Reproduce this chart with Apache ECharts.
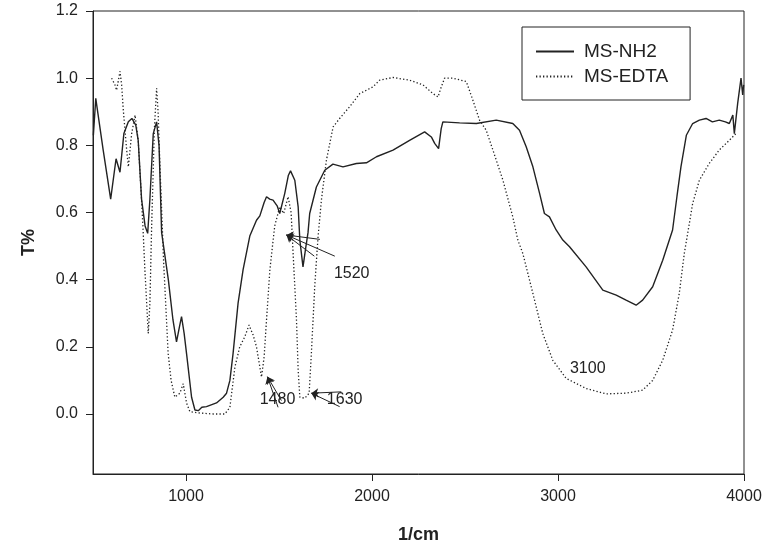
<!DOCTYPE html>
<html>
<head>
<meta charset="utf-8">
<script src="https://cdn.jsdelivr.net/npm/echarts@6/dist/echarts.min.js"></script>
<style>
  html, body { margin: 0; padding: 0; background: #fff; }
  #chart { width: 769px; height: 559px; }
</style>
</head>
<body>
<div id="chart"></div>
<script>
// MS-NH2 (solid) : wavenumber / transmittance
const nh2Wn = [502, 515, 520, 555, 595, 624, 645, 666, 690, 709, 730, 743, 761, 780, 794, 806, 824, 842, 855, 869, 905, 930, 949, 965, 976, 990, 1003, 1030, 1048, 1066, 1085, 1110, 1164, 1200, 1218, 1236, 1253, 1280, 1307, 1343, 1379, 1397, 1420, 1433, 1450, 1468, 1490, 1504, 1531, 1550, 1562, 1585, 1603, 1612, 1629, 1645, 1656, 1665, 1701, 1746, 1790, 1844, 1916, 1970, 2024, 2113, 2202, 2283, 2319, 2337, 2358, 2372, 2381, 2471, 2561, 2668, 2757, 2793, 2829, 2865, 2901, 2927, 2954, 2990, 3026, 3062, 3151, 3241, 3313, 3366, 3420, 3455, 3509, 3563, 3616, 3640, 3661, 3690, 3724, 3760, 3796, 3830, 3867, 3900, 3921, 3940, 3948, 3966, 3984, 3993, 3998];
const nh2T = [0.83, 0.94, 0.92, 0.785, 0.64, 0.76, 0.72, 0.835, 0.87, 0.88, 0.86, 0.815, 0.64, 0.56, 0.538, 0.64, 0.835, 0.87, 0.80, 0.54, 0.40, 0.28, 0.215, 0.26, 0.29, 0.24, 0.18, 0.05, 0.012, 0.01, 0.02, 0.022, 0.033, 0.05, 0.062, 0.10, 0.18, 0.33, 0.43, 0.53, 0.577, 0.59, 0.63, 0.647, 0.64, 0.637, 0.62, 0.597, 0.657, 0.71, 0.724, 0.696, 0.617, 0.518, 0.438, 0.50, 0.54, 0.597, 0.676, 0.726, 0.744, 0.736, 0.746, 0.748, 0.766, 0.786, 0.815, 0.84, 0.825, 0.806, 0.79, 0.85, 0.87, 0.867, 0.865, 0.875, 0.865, 0.845, 0.796, 0.736, 0.657, 0.597, 0.587, 0.548, 0.518, 0.498, 0.438, 0.369, 0.354, 0.339, 0.324, 0.339, 0.379, 0.458, 0.548, 0.65, 0.736, 0.83, 0.865, 0.875, 0.88, 0.87, 0.875, 0.87, 0.865, 0.89, 0.835, 0.925, 1.0, 0.95, 0.98];

// MS-EDTA (dotted)
const edtaWn = [600, 618, 627, 645, 654, 663, 681, 690, 708, 726, 743, 761, 770, 779, 797, 806, 815, 830, 842, 850, 860, 880, 904, 920, 940, 967, 985, 1003, 1021, 1075, 1146, 1209, 1236, 1263, 1289, 1316, 1339, 1361, 1379, 1406, 1420, 1433, 1451, 1477, 1504, 1525, 1549, 1565, 1576, 1594, 1603, 1612, 1639, 1662, 1674, 1692, 1710, 1728, 1755, 1791, 1826, 1880, 1934, 2005, 2041, 2113, 2202, 2274, 2328, 2355, 2370, 2390, 2435, 2507, 2542, 2578, 2614, 2650, 2704, 2757, 2784, 2811, 2865, 2918, 2972, 3044, 3151, 3259, 3366, 3455, 3509, 3563, 3616, 3652, 3679, 3706, 3724, 3760, 3813, 3867, 3921, 3957];
const edtaT = [1.0, 0.98, 0.964, 1.02, 0.98, 0.905, 0.786, 0.736, 0.835, 0.89, 0.815, 0.637, 0.54, 0.43, 0.24, 0.33, 0.55, 0.85, 0.97, 0.90, 0.736, 0.45, 0.18, 0.10, 0.05, 0.062, 0.09, 0.033, 0.007, 0.003, 0.0, 0.0, 0.02, 0.14, 0.2, 0.23, 0.265, 0.235, 0.2, 0.11, 0.17, 0.28, 0.43, 0.56, 0.617, 0.597, 0.647, 0.60, 0.478, 0.28, 0.131, 0.05, 0.047, 0.062, 0.18, 0.379, 0.528, 0.637, 0.756, 0.855, 0.88, 0.915, 0.954, 0.974, 0.994, 1.002, 0.994, 0.98, 0.954, 0.944, 0.97, 1.0, 1.0, 0.99, 0.935, 0.875, 0.845, 0.786, 0.696, 0.587, 0.518, 0.478, 0.359, 0.24, 0.16, 0.106, 0.076, 0.06, 0.062, 0.071, 0.10, 0.16, 0.25, 0.359, 0.478, 0.567, 0.627, 0.696, 0.746, 0.786, 0.815, 0.835];

const xTicks = [1000, 2000, 3000, 4000];
const yTicks = [0, 0.2, 0.4, 0.6, 0.8, 1.0, 1.2];

// peak labels (text, wavenumber, T) and arrows (from -> tip), in data units
const peakLabels = [['1520', 1891, 0.417], ['1480', 1492, 0.042], ['1630', 1853, 0.042], ['3100', 3160, 0.136]];
const arrowLines = [
  [[1800, 0.47], [1540, 0.533]],
  [[1690, 0.47], [1540, 0.533]],
  [[1720, 0.52], [1540, 0.533]],
  [[1513, 0.04], [1438, 0.111]],
  [[1495, 0.02], [1438, 0.111]],
  [[1835, 0.066], [1674, 0.062]],
  [[1826, 0.022], [1674, 0.062]]
];

const FONT = '"Liberation Sans", Arial, sans-serif';
const INK = '#222';

const chart = echarts.init(document.getElementById('chart'));

chart.setOption({
  animation: false,
  textStyle: { fontFamily: FONT, color: INK },
  grid: {
    left: 93, right: 25, top: 11, bottom: 85,
    show: true, borderColor: INK, borderWidth: 1, backgroundColor: 'transparent'
  },
  legend: {
    orient: 'vertical',
    left: 522, top: 27,
    padding: [15, 22, 14, 13],
    itemGap: 6,
    itemWidth: 38, itemHeight: 14,
    borderColor: INK, borderWidth: 1,
    itemStyle: { opacity: 0 },
    textStyle: { fontFamily: FONT, fontSize: 19, color: INK, padding: [0, 0, 0, 5] },
    data: ['MS-NH2', 'MS-EDTA']
  },
  xAxis: {
    type: 'value',
    min: 500, max: 4000,
    name: '1/cm',
    nameLocation: 'middle',
    nameGap: 52,
    nameTextStyle: { fontFamily: FONT, fontSize: 18, fontWeight: 'bold', color: INK },
    axisLine: { onZero: false, lineStyle: { color: INK, width: 1 } },
    axisTick: { length: 7, lineStyle: { color: INK }, customValues: xTicks },
    axisLabel: { margin: 15, fontSize: 16, color: INK, customValues: xTicks, formatter: v => String(v) },
    splitLine: { show: false }
  },
  yAxis: {
    type: 'value',
    min: -0.1786, max: 1.2,
    name: 'T%',
    nameLocation: 'middle',
    nameGap: 55,
    nameRotate: 90,
    nameTextStyle: { fontFamily: FONT, fontSize: 18, fontWeight: 'bold', color: INK },
    axisLine: { show: true, onZero: false, lineStyle: { color: INK, width: 1 } },
    axisTick: { show: true, length: 7, lineStyle: { color: INK }, customValues: yTicks },
    axisLabel: {
      margin: 15, fontSize: 16, color: INK, customValues: yTicks,
      formatter: v => v.toFixed(1)
    },
    splitLine: { show: false }
  },
  series: [
    {
      name: 'MS-NH2',
      type: 'line',
      data: nh2Wn.map((w, i) => [w, nh2T[i]]),
      showSymbol: false, symbol: 'none',
      lineStyle: { color: INK, width: 1.4, type: 'solid' },
      itemStyle: { color: INK },
      markLine: {
        silent: true,
        symbol: ['none', 'arrow'],
        symbolSize: 7,
        label: { show: false },
        lineStyle: { color: INK, width: 1, type: 'solid' },
        data: arrowLines.map(a => [{ coord: a[0] }, { coord: a[1] }])
      },
      markPoint: {
        silent: true,
        symbol: 'circle', symbolSize: 0,
        label: { show: true, position: 'inside', fontSize: 16, color: INK, fontFamily: FONT, formatter: p => p.name },
        data: peakLabels.map(p => ({ name: p[0], coord: [p[1], p[2]] }))
      }
    },
    {
      name: 'MS-EDTA',
      type: 'line',
      data: edtaWn.map((w, i) => [w, edtaT[i]]),
      showSymbol: false, symbol: 'none',
      lineStyle: { color: INK, width: 1.3, type: [1.3, 2.2] },
      itemStyle: { color: INK }
    }
  ]
});
</script>
</body>
</html>
